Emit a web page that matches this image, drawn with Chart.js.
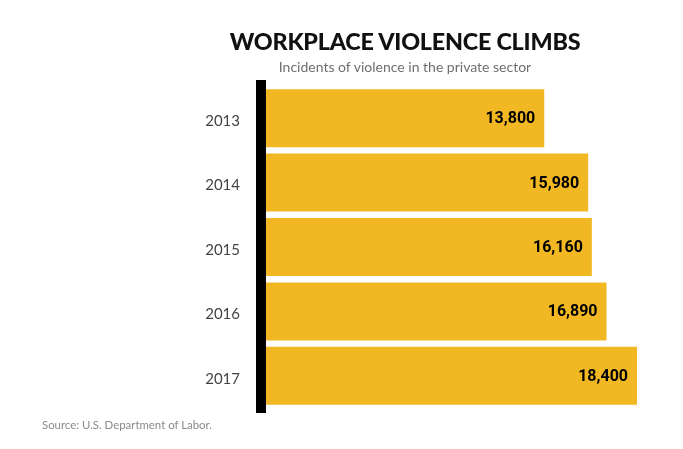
<!DOCTYPE html>
<html><head><meta charset="utf-8">
<script src="https://cdn.jsdelivr.net/npm/chart.js@4/dist/chart.umd.min.js"></script>
<style>
html,body{margin:0;padding:0;background:#fff;}
#wrap{position:relative;width:683px;height:449px;}
#title{position:absolute;left:0;width:810px;top:27px;text-align:center;font:900 23.3px Lato,sans-serif;color:#111;letter-spacing:-0.2px;}
#sub{position:absolute;left:0;width:810px;top:58px;text-align:center;font:400 14px Lato,sans-serif;color:#6f6f6f;}
#src{position:absolute;left:42px;top:418px;font:400 11.4px Lato,sans-serif;color:#8a8a8a;}
canvas{position:absolute;left:0;top:0;}
</style></head>
<body><div id="wrap">
<canvas id="c" width="683" height="449"></canvas>
<div id="title">WORKPLACE VIOLENCE CLIMBS</div>
<div id="sub">Incidents of violence in the private sector</div>
<div id="src">Source: U.S. Department of Labor.</div>
</div>
<script>
const years = ['2013','2014','2015','2016','2017'];
const incidents = [13800, 15980, 16160, 16890, 18400];

const axisBar = {
  id:'axisBar',
  afterDatasetsDraw(chart){
    const {ctx, chartArea:a} = chart;
    ctx.save();
    ctx.fillStyle = '#000';
    ctx.fillRect(a.left-10, a.top-6, 10, a.bottom-a.top+11);
    ctx.restore();
  }
};
const valueLabels = {
  id:'valueLabels',
  afterDatasetsDraw(chart){
    const {ctx} = chart;
    const meta = chart.getDatasetMeta(0);
    ctx.save();
    ctx.font = '700 16px Roboto, sans-serif';
    ctx.fillStyle = '#000';
    ctx.textAlign = 'right';
    ctx.textBaseline = 'middle';
    meta.data.forEach((bar,i)=>{
      ctx.fillText(incidents[i].toLocaleString('en-US'), bar.x-9, bar.y+1);
    });
    ctx.restore();
  }
};

new Chart(document.getElementById('c'), {
  type:'bar',
  data:{labels:years, datasets:[{data:incidents, backgroundColor:'#F2B824', borderWidth:0, categoryPercentage:0.9, barPercentage:1}]},
  options:{
    indexAxis:'y', responsive:false, animation:false,
    layout:{padding:{left:0,right:46,top:86,bottom:41}},
    plugins:{legend:{display:false}, tooltip:{enabled:false}},
    scales:{
      x:{display:false, min:0, max:18400},
      y:{
        grid:{display:false, drawTicks:false}, border:{display:false},
        ticks:{color:'#444', font:{family:'Lato', size:15}, padding:26, labelOffset:3},
        afterFit(s){ s.width = 266; }
      }
    }
  },
  plugins:[axisBar, valueLabels]
});
</script>
</body></html>
